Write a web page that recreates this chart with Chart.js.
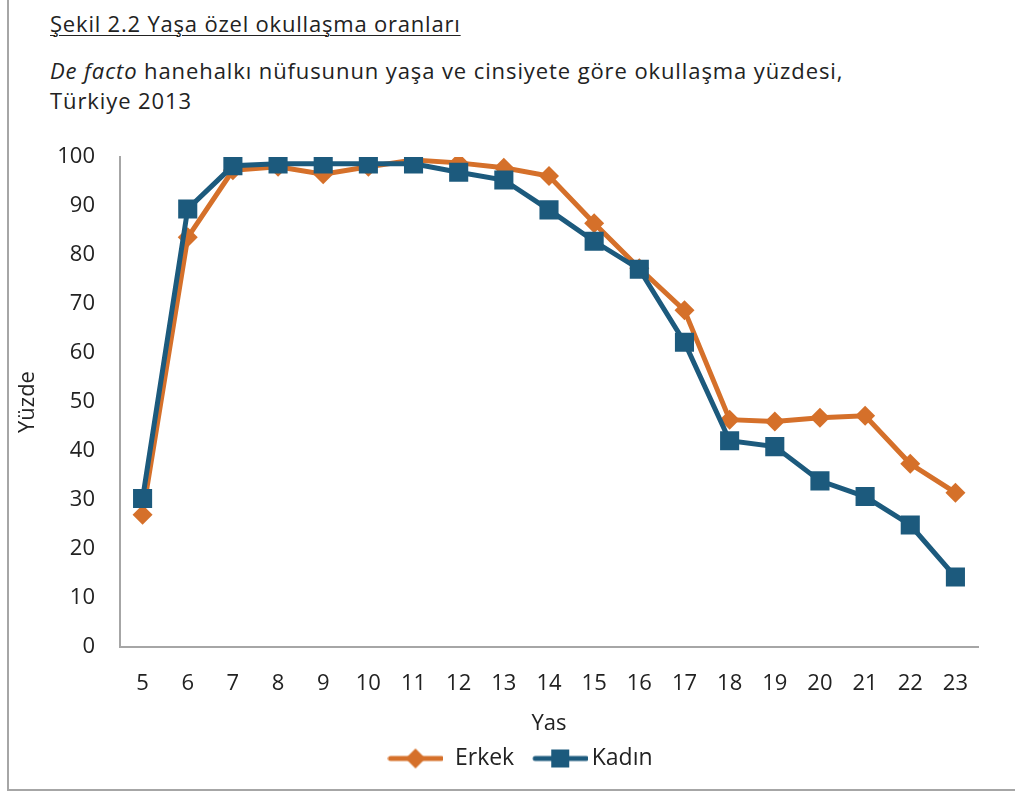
<!DOCTYPE html>
<html>
<head>
<meta charset="utf-8">
<script src="https://cdn.jsdelivr.net/npm/chart.js@4.4.1/dist/chart.umd.min.js"></script>
<style>
  html, body { margin: 0; padding: 0; background: #fff; }
  body { width: 1015px; height: 793px; position: relative; overflow: hidden; font-family: "Open Sans", Lato, sans-serif; color: #222; }
  .frame { position: absolute; left: 7px; top: 0; width: 1010px; height: 789px; border-left: 2px solid #a6a6a6; border-bottom: 2px solid #a6a6a6; }
  .title { position: absolute; left: 50px; top: 8px; font-size: 22px; letter-spacing: 0.8px; text-decoration: underline; text-decoration-thickness: 1px; text-underline-offset: 3px; }
  .sub { position: absolute; left: 50px; top: 55px; font-size: 22px; letter-spacing: 0.9px; line-height: 30px; }
  #wrap { position: absolute; left: 0; top: 0; width: 1015px; height: 793px; }
</style>
</head>
<body>
<div class="frame"></div>
<div class="title">Şekil 2.2 Yaşa özel okullaşma oranları</div>
<div class="sub"><i>De facto</i> hanehalkı nüfusunun yaşa ve cinsiyete göre okullaşma yüzdesi,<br>Türkiye 2013</div>
<div id="wrap"><canvas id="c" width="1015" height="793"></canvas></div>
<script>
// ---- データ ----
const ages = ['5','6','7','8','9','10','11','12','13','14','15','16','17','18','19','20','21','22','23'];
const erkek = [27.0, 83.6, 97.3, 98.0, 96.5, 98.0, 99.4, 98.8, 97.8, 96.1, 86.5, 77.3, 68.7, 46.4, 46.0, 46.8, 47.2, 37.4, 31.5];
const kadin = [30.3, 89.4, 98.2, 98.6, 98.6, 98.6, 98.6, 96.9, 95.3, 89.2, 82.8, 77.1, 62.2, 42.1, 40.9, 33.9, 30.7, 24.9, 14.3];
const yTicks = [0, 10, 20, 30, 40, 50, 60, 70, 80, 90, 100];

const ORANGE = '#D5702A';
const BLUE = '#1C5A7D';
const AXIS = '#a6a6a6';
const FONT = '"Open Sans", Lato, sans-serif';

// legend icon: line + marker (lead = blank space before the line)
function legendIcon(color, style, lead) {
    const cv = document.createElement('canvas');
    cv.width = 56 + lead; cv.height = 24;
    const g = cv.getContext('2d');
    g.translate(lead, 0);
    g.strokeStyle = color; g.fillStyle = color; g.lineWidth = 5; g.lineCap = 'round';
    g.beginPath(); g.moveTo(3, 12); g.lineTo(54, 12); g.stroke();
    if (style === 'rect') {
        g.fillRect(28 - 9, 12 - 9, 18, 18);
    } else {
        g.beginPath(); g.moveTo(28, 2); g.lineTo(38, 12); g.lineTo(28, 22); g.lineTo(18, 12); g.closePath(); g.fill();
    }
    return cv;
}

const icons = [legendIcon(ORANGE, 'rectRot', 0), legendIcon(BLUE, 'rect', 16)];

// legend sits a bit right of the page centre in the original
const legendShift = {
    id: 'legendShift',
    afterLayout(chart) {
        chart.legend.left += 26;
        chart.legend.right += 26;
    }
};

new Chart(document.getElementById('c'), {
    type: 'line',
    data: {
        labels: ages,
        datasets: [
            { label: 'Erkek', data: erkek, borderColor: ORANGE, backgroundColor: ORANGE, borderWidth: 5,
              pointStyle: 'rectRot', pointRadius: 10, pointBorderWidth: 0, pointBackgroundColor: ORANGE, tension: 0, order: 1 },
            { label: 'Kadın', data: kadin, borderColor: BLUE, backgroundColor: BLUE, borderWidth: 5,
              pointStyle: 'rect', pointRadius: 13.5, pointBorderWidth: 0, pointBackgroundColor: BLUE, tension: 0, order: 0 }
        ]
    },
    plugins: [legendShift],
    options: {
        responsive: false,
        animation: false,
        layout: { padding: { left: 10, top: 157, right: 37, bottom: 13 } },
        plugins: {
            tooltip: { enabled: false },
            legend: {
                position: 'bottom',
                labels: {
                    usePointStyle: true,
                    pointStyleWidth: 56,
                    boxHeight: 24,
                    padding: 10,
                    color: '#222',
                    font: { family: FONT, size: 23 },
                    generateLabels: chart => chart.data.datasets.map((ds, i) => ({
                        text: ds.label, pointStyle: icons[i], fillStyle: ds.borderColor,
                        strokeStyle: ds.borderColor, lineWidth: 0, hidden: false, datasetIndex: i, fontColor: '#222'
                    }))
                }
            }
        },
        scales: {
            x: {
                offset: true,
                grid: { display: false, drawTicks: false },
                border: { display: true, color: AXIS, width: 2 },
                ticks: { color: '#222', padding: 24, maxRotation: 0, autoSkip: false, font: { family: FONT, size: 22 } },
                title: { display: true, text: 'Yas', color: '#222', padding: { top: 9, bottom: 0 }, font: { family: FONT, size: 22 } },
                afterFit: s => { s.height = 90; }
            },
            y: {
                min: 0, max: 100,
                afterBuildTicks: s => { s.ticks = yTicks.map(v => ({ value: v })); },
                grid: { display: false, drawTicks: false },
                border: { display: true, color: AXIS, width: 2 },
                ticks: { color: '#222', padding: 25, font: { family: FONT, size: 22 } },
                title: { display: true, text: 'Yüzde', color: '#222', padding: { top: 5, bottom: 0 }, font: { family: FONT, size: 22 } },
                afterFit: s => { s.width = 110; }
            }
        }
    }
});
</script>
</body>
</html>
